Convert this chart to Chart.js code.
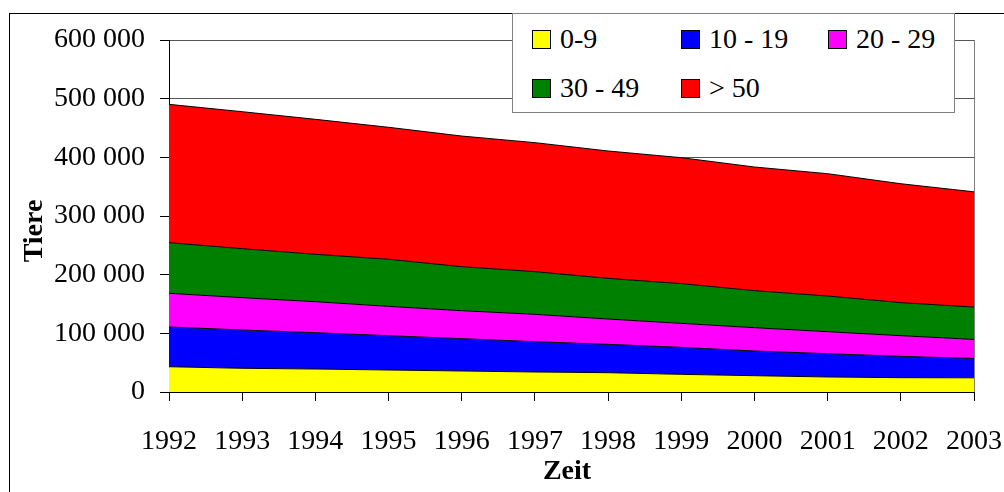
<!DOCTYPE html>
<html lang="de">
<head>
<meta charset="utf-8">
<title>Tiere nach Bestandsgröße</title>
<script src="https://cdn.jsdelivr.net/npm/chart.js@4.4.1/dist/chart.umd.min.js"></script>
<style>
  html, body { margin: 0; padding: 0; background: #fff; }
  #wrap { position: relative; width: 1004px; height: 492px; overflow: hidden; }
  #frame { position: absolute; left: 9px; top: 13px; width: 1100px; height: 600px; border: 1px solid #000; box-sizing: border-box; }
  #chart { position: absolute; left: 0; top: 0; }
  #legend {
    position: absolute; left: 512px; top: 13px; width: 443px; height: 100px;
    box-sizing: border-box; border: 1px solid #808080; background: #fff;
    font: 28px 'Liberation Serif', 'Times New Roman', serif; color: #000;
  }
  .item { position: absolute; display: flex; align-items: center; height: 30px; white-space: nowrap; }
  .swatch { width: 19px; height: 19px; border: 1px solid #000; box-sizing: border-box; margin-right: 9px; }
</style>
</head>
<body>
<div id="wrap">
  <div id="frame"></div>
  <canvas id="chart" width="1004" height="492"></canvas>
  <div id="legend"></div>
</div>
<script>
// Jahre (x-Achse)
const years = ['1992', '1993', '1994', '1995', '1996', '1997', '1998', '1999', '2000', '2001', '2002', '2003']

// Bestandsgrößenklassen
const seriesNames = ['0-9', '10 - 19', '20 - 29', '30 - 49', '> 50']
const seriesColors = ['#ffff00', '#0000ff', '#ff00ff', '#008000', '#ff0000']

// Tiere je Klasse (gestapelt)
const size0to9 = [43100, 40400, 39200, 37500, 35800, 34100, 32900, 30100, 27800, 25600, 24400, 24200]
const size10to19 = [67700, 65300, 61900, 58500, 55100, 51700, 48300, 46000, 42100, 39700, 36400, 33000]
const size20to29 = [57400, 55100, 52800, 50000, 47700, 46600, 43200, 40900, 39700, 37500, 35200, 32400]
const size30to49 = [86300, 83500, 80800, 80200, 75000, 72700, 69300, 67700, 63100, 60800, 56300, 55100]
const size50plus = [235800, 233500, 230100, 225000, 222700, 219900, 217100, 214700, 210800, 208500, 202700, 196500]

const seriesValues = [size0to9, size10to19, size20to29, size30to49, size50plus]

// y-Achse
const yMin = 0
const yMax = 600000
const yStep = 100000

const serif = "'Liberation Serif', 'Times New Roman', serif"

function formatThousands(v) {
  return String(v).replace(/\B(?=(\d{3})+(?!\d))/g, ' ')
}

// Achsentitel an feste Stellen wie im Original
const axisTitles = {
  id: 'axisTitles',
  afterDraw(chart) {
    const ctx = chart.ctx
    ctx.save()
    ctx.fillStyle = '#000'
    ctx.font = 'bold 28px ' + serif
    ctx.textAlign = 'center'
    ctx.textBaseline = 'middle'
    ctx.fillText('Zeit', 567, 472)
    ctx.translate(35, 231)
    ctx.rotate(-Math.PI / 2)
    ctx.fillText('Tiere', 0, 0)
    ctx.restore()
  }
}

const datasets = seriesNames.map((name, i) => ({
  label: name,
  data: seriesValues[i],
  backgroundColor: seriesColors[i],
  borderColor: '#000',
  borderWidth: 1,
  pointRadius: 0,
  tension: 0,
  fill: i === 0 ? 'origin' : '-1'
}))

const chart = new Chart(document.getElementById('chart').getContext('2d'), {
  type: 'line',
  data: { labels: years, datasets: datasets },
  plugins: [axisTitles],
  options: {
    responsive: false,
    animation: false,
    devicePixelRatio: 1,
    layout: { padding: { top: 40, right: 30, left: 0, bottom: 0 } },
    plugins: {
      legend: { display: false },
      tooltip: { enabled: false }
    },
    scales: {
      x: {
        grid: {
          color: (ctx) => (ctx.index === years.length - 1 ? '#808080' : 'rgba(0,0,0,0)'),
          tickColor: '#000',
          tickLength: 9
        },
        border: { color: '#000' },
        ticks: {
          color: '#000',
          font: { family: serif, size: 28 },
          padding: 24,
          maxRotation: 0,
          autoSkip: false
        },
        afterFit: (scale) => {
          scale.height = 100
          scale.paddingLeft = 0
          scale.paddingRight = 0
        }
      },
      y: {
        stacked: true,
        min: yMin,
        max: yMax,
        grid: { color: '#555', tickColor: '#000', tickLength: 9 },
        border: { color: '#000' },
        ticks: {
          stepSize: yStep,
          color: '#000',
          font: { family: serif, size: 28 },
          padding: 15,
          callback: (v) => formatThousands(v)
        },
        afterFit: (scale) => { scale.width = 169 }
      }
    }
  }
})

// Legende als Kasten über dem Diagramm
const legendCols = [19, 168, 315]
const legendRows = [10, 59]
const legendEl = document.getElementById('legend')
chart.data.datasets.forEach((ds, i) => {
  const item = document.createElement('div')
  item.className = 'item'
  item.style.left = legendCols[i % 3] + 'px'
  item.style.top = legendRows[Math.floor(i / 3)] + 'px'
  const sw = document.createElement('span')
  sw.className = 'swatch'
  sw.style.background = ds.backgroundColor
  const txt = document.createElement('span')
  txt.textContent = ds.label
  item.appendChild(sw)
  item.appendChild(txt)
  legendEl.appendChild(item)
})
</script>
</body>
</html>
